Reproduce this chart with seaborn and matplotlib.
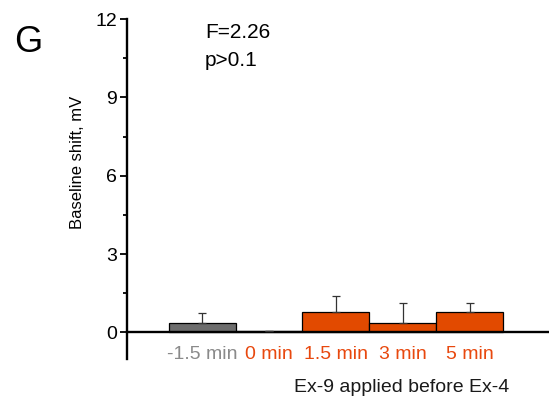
import numpy as np
import pandas as pd
import matplotlib
matplotlib.use("Agg")
import matplotlib.pyplot as plt
from matplotlib.ticker import MultipleLocator
import seaborn as sns

# Baseline shift for each Ex-9 pre-application time
categories = ["-1.5 min", "0 min", "1.5 min", "3 min", "5 min"]
means = [0.37, 0.05, 0.78, 0.36, 0.78]
sem_up = [0.37, 0.0, 0.60, 0.78, 0.36]

GRAY = "#6d6d6d"
ORANGE = "#e24a00"
label_colors = ["#8a8a8a", "#e8480e", "#e8480e", "#e8480e", "#e8480e"]
bar_colors = [GRAY, ORANGE, ORANGE, ORANGE, ORANGE]

sns.set_style("ticks", {"axes.edgecolor": "black", "xtick.color": "black",
                        "ytick.color": "black", "text.color": "black",
                        "axes.labelcolor": "black"})
plt.rcParams["font.family"] = ["Liberation Sans", "DejaVu Sans"]

df = pd.DataFrame({"cond": categories, "shift": means})

fig = plt.figure(figsize=(5.49, 3.99), dpi=100)
ax = fig.add_axes([127 / 549, 40 / 399, 422 / 549, 340 / 399])

sns.barplot(data=df, x="cond", y="shift", hue="cond", palette=bar_colors,
            legend=False, width=1.0, edgecolor="black", linewidth=0.9,
            saturation=1, errorbar=None, ax=ax)

x = np.arange(len(categories))
ax.errorbar(x, means, yerr=[np.zeros(len(means)), sem_up], fmt="none",
            ecolor="#333333", elinewidth=0.9, capsize=3, capthick=0.9, zorder=3)

ax.set_xlim(-1.12, 5.18)
ax.set_ylim(-1.02, 12)
ax.yaxis.set_major_locator(MultipleLocator(3))
ax.yaxis.set_minor_locator(MultipleLocator(1.5))
ax.tick_params(axis="y", which="major", length=5, width=1.3, pad=2,
               labelsize=14, direction="out")
ax.tick_params(axis="y", which="minor", length=3, width=1.3, direction="out")

# horizontal axis line sits at zero; labels hang below it
for s in ("top", "right"):
    ax.spines[s].set_visible(False)
ax.spines["bottom"].set_position(("data", 0))
ax.spines["left"].set_linewidth(1.7)
ax.spines["bottom"].set_linewidth(1.7)
ax.tick_params(axis="x", length=0, pad=10, labelsize=14)
for lab, c in zip(ax.get_xticklabels(), label_colors):
    lab.set_color(c)

ax.set_xlabel("Ex-9 applied before Ex-4", fontsize=14, color="#1a1a1a")
ax.xaxis.set_label_coords((402 - 127) / 422, (359 - 387) / 340)
ax.xaxis.label.set_va("center")

ax.set_ylabel("Baseline shift, mV", fontsize=12, color="black")
ax.yaxis.set_label_coords((78 - 127) / 422, (359 - 162) / 340)
ax.yaxis.label.set_va("center")

fig.text(28 / 549, 1 - 42 / 399, "G", fontsize=26, ha="center", va="center")
fig.text(205 / 549, 1 - 33 / 399, "F=2.26", fontsize=15, ha="left", va="center")
fig.text(205 / 549, 1 - 60 / 399, "p>0.1", fontsize=15, ha="left", va="center")

fig.savefig("out.png", dpi=100)
